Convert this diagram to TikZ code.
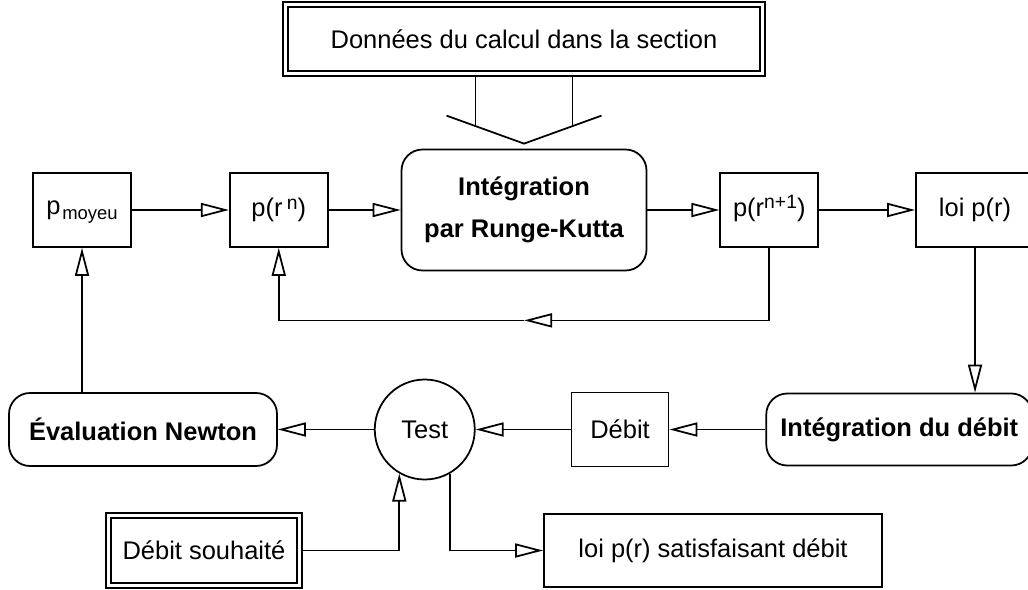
\documentclass[tikz,border=0pt]{standalone}
\usepackage{fontspec}
\setmainfont{Liberation Sans}
\usetikzlibrary{arrows.meta,positioning}

\begin{document}
\begin{tikzpicture}[
            box/.style={draw, line width=1pt, minimum width=1.96cm, minimum height=1.48cm, inner sep=0pt, align=center, font=\fontsize{14.5}{17.4}\selectfont},
            roundbox/.style={box, rounded corners=0.42cm, font=\fontsize{14.5}{17.4}\selectfont\bfseries},
            dbox/.style={box, line width=0.9pt, double, double distance=2pt, outer sep=1.8pt},
            testnode/.style={draw, line width=1pt, circle, minimum size=2cm, inner sep=0pt, font=\fontsize{14.5}{17.4}\selectfont},
            arrow/.style={line width=1pt, -{Triangle[open, length=0.56cm, width=0.28cm]}},
            node distance=1.92cm
        ]

        \useasboundingbox (0,0) rectangle (20.56,-11.78);

        \node[box] (pmoyeu) at (1.64,-4.2) {p\kern1pt\raisebox{-0.1cm}[0pt][0pt]{\fontsize{10.5}{12}\selectfont moyeu}};

        \node[box, right=1.94cm of pmoyeu] (prn) {p(r\,\raisebox{0.14cm}[0pt][0pt]{\fontsize{11}{13}\selectfont n})};

        \node[roundbox, minimum width=4.9cm, minimum height=2.42cm, right=1.44cm of prn] (rk) {\raisebox{-0.1cm}{Intégration}\\[0.33cm]par Runge-Kutta};

        \node[box, right=1.44cm of rk] (prn1) {p(r\raisebox{0.16cm}[0pt][0pt]{\fontsize{11}{13}\selectfont n+1})};

        \node[box, minimum width=2.36cm, right=of prn1] (loi) {loi p(r)};

        \node[dbox, minimum width=9.54cm, minimum height=1.38cm, above=1.44cm of rk] (donnees) {Données du calcul dans la section};

        \node[roundbox, minimum width=5.36cm, minimum height=1.46cm] (newton) at (2.86,-8.59) {Évaluation Newton};

        \node[testnode, right=of newton] (test) {Test};

        \node[box, minimum width=1.94cm, right=1.9cm of test] (debit) {Débit};

        \node[roundbox, minimum width=5.32cm, minimum height=1.44cm, right=of debit] (integdebit) {Intégration du débit};

        \node[dbox, minimum width=3.82cm, minimum height=1.4cm] (souhait) at (4.08,-11.01) {Débit souhaité};

        \node[box, minimum width=6.76cm, minimum height=1.46cm] (satisf) at (14.26,-11.01) {loi p(r) satisfaisant débit};

        % Data input into the integration
        \draw[line width=1pt] ([xshift=-0.97cm]donnees.south) -- ([xshift=-0.97cm,yshift=0.45cm]rk.north);
        \draw[line width=1pt] ([xshift=0.97cm]donnees.south) -- ([xshift=0.97cm,yshift=0.45cm]rk.north);
        \draw[line width=1pt] ([xshift=-1.55cm,yshift=0.66cm]rk.north) -- ([yshift=0.1cm]rk.north) -- ([xshift=1.55cm,yshift=0.66cm]rk.north);

        % Radial integration
        \draw[arrow] (pmoyeu) -- (prn);
        \draw[arrow] (prn) -- (rk);
        \draw[arrow] (rk) -- (prn1);
        \draw[arrow] (prn1) -- (loi);

        % Next step
        \coordinate[below=0.98cm of rk] (back);
        \draw[arrow] (prn1.south) |- (back);
        \draw[arrow] (back) -| (prn.south);

        % Flow loop
        \draw[arrow] (loi.south) -- (loi.south |- integdebit.north);
        \draw[arrow] (integdebit) -- (debit);
        \draw[arrow] (debit) -- (test);
        \draw[arrow] (test) -- (newton);
        \draw[arrow] (newton.north -| pmoyeu.south) -- (pmoyeu.south);

        % Test input and result
        \draw[arrow] (souhait.east) -| (test.240);
        \draw[arrow] (test.300) |- (satisf.west);

    \end{tikzpicture}
\end{document}
